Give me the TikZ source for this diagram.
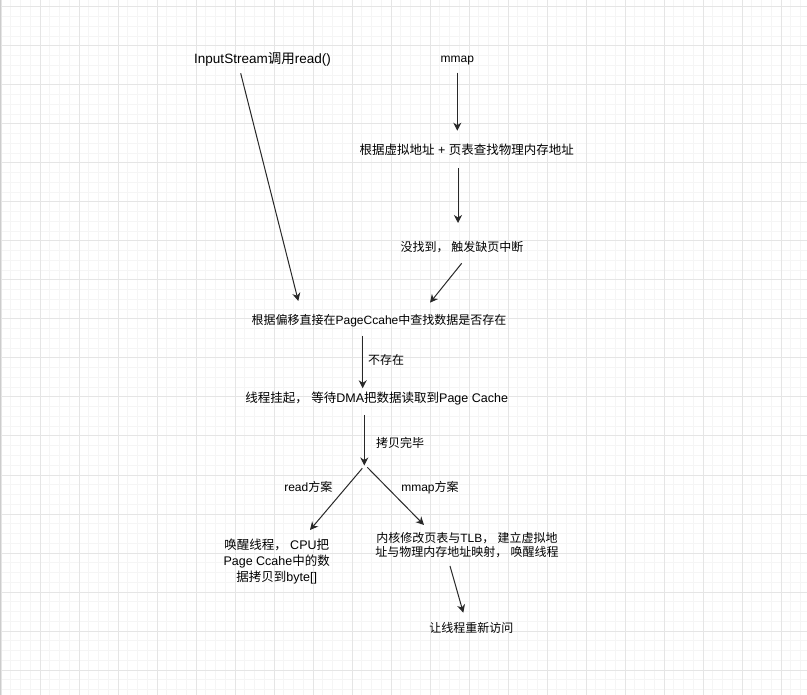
\documentclass[tikz,border=0pt]{standalone}
\usepackage{fontspec}
\setmainfont{Liberation Sans}
\newfontfamily\cjk{Noto Sans CJK SC}
\newcommand{\zh}[1]{{\cjk #1}}
\usepackage{xcolor}
\usetikzlibrary{arrows.meta}

\definecolor{gridminor}{RGB}{245,245,245}
\definecolor{gridmajor}{RGB}{229,229,229}
\definecolor{lineclr}{RGB}{40,40,40}

\begin{document}
\begin{tikzpicture}[
    x=1pt, y=-1pt,
    minorgrid/.style={draw=gridminor, line width=1pt},
    majorgrid/.style={draw=gridmajor, line width=1pt},
    txt/.style={inner sep=0pt, anchor=base, align=center, font=\fontsize{12}{14}\selectfont},
    bigtxt/.style={txt, font=\fontsize{12.5}{16}\selectfont},
    arrow/.style={-{Stealth[length=8pt, width=8pt, inset=2.5pt]}, draw=lineclr, line width=1pt}
]
\useasboundingbox (0,0) rectangle (807,695);
% grid paper
\begin{scope}
\clip (0,0) rectangle (807,695);
\fill[white] (0,0) rectangle (807,695);
\foreach \i in {0,...,82} {\draw[minorgrid] ({1+9.75*\i},0) -- ({1+9.75*\i},695);}
\foreach \j in {0,...,72} {\draw[minorgrid] (0,{-2.75+9.75*\j}) -- (807,{-2.75+9.75*\j});}
\foreach \i in {0,...,20} {\draw[majorgrid] ({1+39*\i},0) -- ({1+39*\i},695);}
\foreach \j in {0,...,17} {\draw[majorgrid] (0,{7+39*\j}) -- (807,{7+39*\j});}
\draw[draw=gray!40, line width=1pt] (0.5,0) -- (0.5,695);
\end{scope}

% texts
\node[txt, font=\fontsize{13.5}{16}\selectfont] (inread) at (262.5,63.2) {InputStream\zh{调用}read()};
\node[txt] (mmap) at (457.3,62.5) {mmap};
\node[bigtxt] (vmlookup) at (466.7,154.5) {\zh{根据虚拟地址} + \zh{页表查找物理内存地址}};
\node[txt] (pagefault) at (462,251.3) {\zh{没找到， 触发缺页中断}};
\node[txt] (pcsearch) at (379,324.3) {\zh{根据偏移直接在}PageCcahe\zh{中查找数据是否存在}};
\node[txt] (notexist) at (386,364.3) {\zh{不存在}};
\node[bigtxt] (dmawait) at (376.7,402.5) {\zh{线程挂起，} \zh{等待}DMA\zh{把数据读取到}Page Cache};
\node[txt] (copydone) at (400,447.3) {\zh{拷贝完毕}};
\node[txt] (readplan) at (308.3,491.3) {read\zh{方案}};
\node[txt] (mmapplan) at (430,491.3) {mmap\zh{方案}};
\node[bigtxt] (readwake) at (276.7,581.4) {\zh{唤醒线程，} CPU\zh{把}\\Page Ccahe\zh{中的数}\\\zh{据拷贝到}byte[]};
\node[txt] (mmapmap) at (467,556.7) {\zh{内核修改页表与}TLB\zh{，} \zh{建立虚拟地}\\\zh{址与物理内存地址映射，} \zh{唤醒线程}};
\node[txt] (revisit) at (471.3,632.6) {\zh{让线程重新访问}};

% connector ends
\coordinate (inread-out) at (240.7,73.3);\coordinate (pcsearch-inl) at (298.3,301);
\coordinate (mmap-out) at (457.3,72.7);\coordinate (vmlookup-in) at (457.3,130.7);
\coordinate (vmlookup-out) at (458,168);\coordinate (pagefault-in) at (458,223);
\coordinate (pagefault-out) at (461.7,263.3);\coordinate (pcsearch-inr) at (430,302.7);
\coordinate (pcsearch-out) at (362.7,336);\coordinate (dmawait-in) at (362.7,388.3);
\coordinate (dmawait-out) at (364.3,415);\coordinate (fork) at (364.3,465.5);
\coordinate (fork-l) at (362.3,468.3);\coordinate (readwake-in) at (310,530);
\coordinate (fork-r) at (367.3,467.3);\coordinate (mmapmap-in) at (424,525);
\coordinate (mmapmap-out) at (450,566);\coordinate (revisit-in) at (463.3,612.7);

% arrows
\draw[arrow] (inread-out) -- (pcsearch-inl);
\draw[arrow] (mmap-out) -- (vmlookup-in);
\draw[arrow] (vmlookup-out) -- (pagefault-in);
\draw[arrow] (pagefault-out) -- (pcsearch-inr);
\draw[arrow] (pcsearch-out) -- (dmawait-in);
\draw[arrow] (dmawait-out) -- (fork);
\draw[arrow] (fork-l) -- (readwake-in);
\draw[arrow] (fork-r) -- (mmapmap-in);
\draw[arrow] (mmapmap-out) -- (revisit-in);
\end{tikzpicture}
\end{document}
